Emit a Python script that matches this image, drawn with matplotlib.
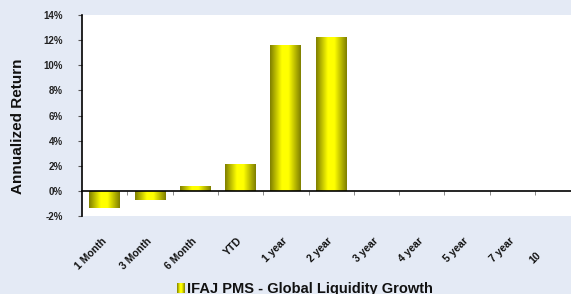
import numpy as np
import matplotlib
matplotlib.use("Agg")
import matplotlib.pyplot as plt
from matplotlib.transforms import ScaledTranslation

categories = ['1 Month', '3 Month', '6 Month', 'YTD', '1 year', '2 year',
              '3 year', '4 year', '5 year', '7 year', '10']
returns = [-1.4, -0.7, 0.35, 2.15, 11.6, 12.25,
           np.nan, np.nan, np.nan, np.nan, np.nan]
series_name = 'IFAJ PMS - Global Liquidity Growth'
yticks = [-2, 0, 2, 4, 6, 8, 10, 12, 14]

plt.rcParams['font.family'] = ['Liberation Sans', 'DejaVu Sans']
bg = '#E4EAF5'

# cylinder-like shading: olive at the edges, bright yellow in the middle
t = np.linspace(0, 1, 64)
shade = np.interp(t, [0, 0.38, 0.6, 1], [0.5, 1.0, 1.0, 0.5])
grad = np.zeros((1, len(t), 3))
grad[0, :, 0] = shade
grad[0, :, 1] = shade

fig = plt.figure(figsize=(5.71, 2.94), dpi=100, facecolor=bg)
ax = fig.add_axes([82 / 571, 78 / 294, 11 * 45.3 / 571, 201 / 294])
ax.set_facecolor('white')

x = np.arange(len(categories))
bars = ax.bar(x, np.nan_to_num(returns), width=0.68, color='none', edgecolor='none')
for b, v in zip(bars, returns):
    if np.isnan(v):
        continue
    x0, y0, w, h = b.get_x(), b.get_y(), b.get_width(), b.get_height()
    im = ax.imshow(grad, extent=[x0, x0 + w, y0, y0 + h], aspect='auto',
                   interpolation='bilinear', zorder=2)
    im.set_clip_path(b)

ax.set_xlim(-0.5, len(categories) - 0.5)
ax.set_ylim(-2, 14)

for s in ['top', 'right']:
    ax.spines[s].set_visible(False)
ax.spines['bottom'].set_position(('data', 0))
ax.spines['bottom'].set_zorder(3)
ax.spines['left'].set_linewidth(1.2)
ax.spines['bottom'].set_linewidth(1.2)

ax.set_yticks(yticks)
ax.set_yticklabels([f'{v}%' for v in yticks])
ax.tick_params(axis='y', direction='out', length=3, color='#555555', pad=11,
               labelsize=7, labelcolor='#222222')
for lb in ax.get_yticklabels():
    lb.set_fontweight('bold')

ax.set_xticks(x)
ax.set_xticks(x[:-1] + 0.5, minor=True)
ax.set_xticklabels(categories)
ax.tick_params(axis='x', which='major', length=0, pad=35, labelsize=7.5,
               labelcolor='#111111')
ax.tick_params(axis='x', which='minor', direction='out', length=3, color='#777777')
for lb in ax.get_xticklabels():
    lb.set_fontweight('bold')
    lb.set_rotation(45)
    lb.set_rotation_mode('anchor')
    lb.set_ha('right')
    lb.set_va('center')
last = ax.get_xticklabels()[-1]
last.set_transform(last.get_transform() + ScaledTranslation(-0.18, -0.14, fig.dpi_scale_trans))

fig.text(18 / 571, 0.5 + (294 / 2 - 126) / 294, 'Annualized Return', rotation=90,
         ha='center', va='center', fontsize=11, fontweight='bold', color='#111111')

# legend: gradient key + label
kax = fig.add_axes([177 / 571, 1 / 294, 8 / 571, 10 / 294])
kax.imshow(grad, aspect='auto', interpolation='bilinear')
kax.axis('off')
fig.text(187 / 571, 1.5 / 294, series_name, ha='left', va='baseline',
         fontsize=10.5, fontweight='bold', color='#111111')

fig.savefig('out.png', dpi=100, facecolor=bg)
